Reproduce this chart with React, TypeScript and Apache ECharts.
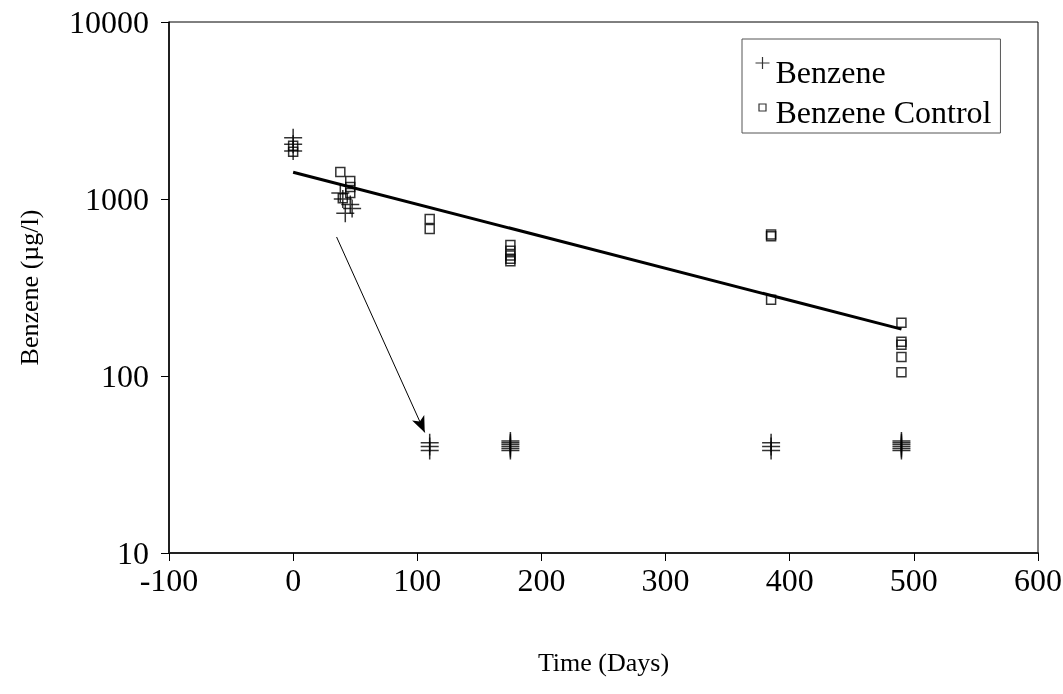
import React, { useEffect, useRef } from "react";
import * as echarts from "echarts";

const benzeneDays = [0, 0, 0, 38, 40, 42, 46, 47.5, 110, 110, 110, 175, 175, 175, 175, 175, 175, 385, 385, 385, 490, 490, 490, 490, 490, 490];
const benzeneValues = [2220, 2040, 1870, 1080, 1000, 830, 930, 885, 42, 40, 38, 43, 42, 41, 40, 39, 38, 42, 40, 38, 43, 42, 41, 40, 39, 38];

const controlDays = [0, 0, 38, 40, 46, 46, 46, 110, 110, 175, 175, 175, 175, 175, 385, 385, 385, 490, 490, 490, 490, 490];
const controlValues = [2000, 1850, 1420, 1010, 1264, 1170, 1080, 771, 677, 550, 510, 480, 460, 445, 630, 615, 270, 200, 156, 150, 128, 105];

const trendDays = [0, 490];
const trendValues = [1416, 184];

const arrowStart = [35, 610];
const arrowEnd = [106, 48];

const xTicks = { min: -100, max: 600, interval: 100 };
const yTicks = { min: 10, max: 10000 };

const FONT = "Liberation Serif";
const PLUS = "path://M0,10L20,10M10,0L10,20";
const LEGEND_PLUS = "path://M1,6L15,6M8,0L8,12M0,30L0,30M16,30L16,30";
const LEGEND_SQUARE = "path://M0,0L0,0M16,30L16,30M4.5,7L11.5,7L11.5,14L4.5,14Z";

export default function App() {
  const ref = useRef<HTMLDivElement>(null);
  useEffect(() => {
    if (!ref.current) return;
    const chart = echarts.init(ref.current, undefined, { renderer: "svg" });
    chart.setOption({
      animation: false,
      textStyle: { fontFamily: FONT, color: "#000" },
      grid: {
        left: 169,
        right: 25,
        top: 22,
        bottom: 141,
        show: true,
        borderColor: "#000",
        borderWidth: 1,
        containLabel: false,
        outerBoundsMode: "none",
      },
      legend: {
        orient: "vertical",
        left: 742,
        top: 39,
        backgroundColor: "#fff",
        borderColor: "#555",
        borderWidth: 1,
        padding: [15, 9, 3, 10],
        itemGap: 4,
        itemWidth: 16,
        itemHeight: 30,
        textStyle: { fontFamily: FONT, fontSize: 32, lineHeight: 36, color: "#000" },
        data: [
          { name: "Benzene", icon: LEGEND_PLUS, itemStyle: { color: "none", borderColor: "#000", borderWidth: 1.2 } },
          { name: "Benzene Control", icon: LEGEND_SQUARE, itemStyle: { color: "none", borderColor: "#000", borderWidth: 1.2 } },
        ],
      },
      xAxis: {
        type: "value",
        min: xTicks.min,
        max: xTicks.max,
        interval: xTicks.interval,
        name: "Time (Days)",
        nameLocation: "middle",
        nameGap: 96,
        nameTextStyle: { fontFamily: FONT, fontSize: 26, color: "#000" },
        axisLine: { show: true, onZero: false, lineStyle: { color: "#222", width: 2 } },
        axisTick: { show: true, length: 8, lineStyle: { color: "#000" } },
        axisLabel: { fontFamily: FONT, fontSize: 32, color: "#000", margin: 11 },
        splitLine: { show: false },
      },
      yAxis: {
        type: "log",
        logBase: 10,
        min: yTicks.min,
        max: yTicks.max,
        name: "Benzene (µg/l)",
        nameLocation: "middle",
        nameGap: 127,
        nameRotate: 90,
        nameTextStyle: { fontFamily: FONT, fontSize: 26, color: "#000" },
        axisLine: { show: true, onZero: false, lineStyle: { color: "#000", width: 1.5 } },
        axisTick: { show: true, length: 8, lineStyle: { color: "#000" } },
        axisLabel: {
          fontFamily: FONT,
          fontSize: 32,
          color: "#000",
          margin: 20,
          formatter: (v: number) => String(Math.round(v)),
        },
        splitLine: { show: false },
        minorTick: { show: false },
      },
      series: [
        {
          name: "Benzene",
          type: "scatter",
          symbol: PLUS,
          symbolSize: 18,
          itemStyle: { color: "none", borderColor: "#000", borderWidth: 1.5 },
          data: benzeneDays.map((d, i) => [d, benzeneValues[i]]),
          z: 3,
        },
        {
          name: "Benzene Control",
          type: "scatter",
          symbol: "rect",
          symbolSize: 9,
          itemStyle: { color: "none", borderColor: "#000", borderWidth: 1.5 },
          data: controlDays.map((d, i) => [d, controlValues[i]]),
          z: 4,
        },
        {
          name: "Trend",
          type: "line",
          symbol: "none",
          lineStyle: { color: "#000", width: 3 },
          data: trendDays.map((d, i) => [d, trendValues[i]]),
          markLine: {
            silent: true,
            symbol: ["none", "arrow"],
            symbolSize: [10, 16],
            label: { show: false },
            lineStyle: { color: "#000", width: 1, type: "solid" },
            data: [[{ coord: arrowStart }, { coord: arrowEnd }]],
          },
          z: 5,
        },
      ],
    });
    return () => chart.dispose();
  }, []);
  return <div ref={ref} style={{ position: "fixed", left: 0, top: 0, width: 1063, height: 694 }} />;
}
